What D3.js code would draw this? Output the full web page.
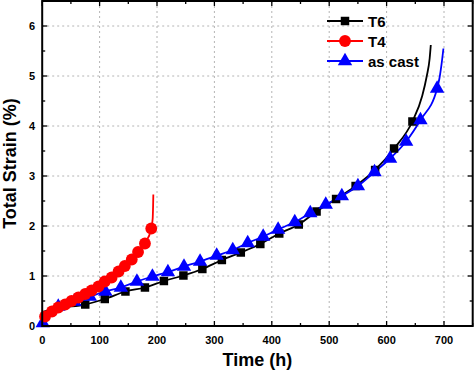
<!DOCTYPE html>
<html lang="en">
<head>
    <meta charset="utf-8">
    <title>Total strain vs time</title>
    <style>
        body { margin: 0; background: #fff; }
        svg { display: block; font-family: "Liberation Sans", Arial, Helvetica, sans-serif; font-weight: bold; }
    </style>
    <script type="text/javascript" src="https://d3js.org/d3.v7.min.js"></script>
</head>
<body>
    <div class="chart"></div>

    <script type="text/javascript">
        // DATA ------------------------------
        // T6 (black squares)
        const t6Time   = [75, 109, 145, 179, 212, 246, 279, 313, 346, 380, 413, 447, 478, 512, 546, 580, 613, 645];
        const t6Strain = [0.43, 0.54, 0.69, 0.77, 0.9, 1.01, 1.14, 1.32, 1.47, 1.64, 1.85, 2.03, 2.29, 2.54, 2.8, 3.12, 3.55, 4.09];
        // curve start and rupture tail
        const t6HeadTime = [0, 10, 30];
        const t6HeadStrain = [0.28, 0.31, 0.36];
        const t6TailTime = [662, 670, 675, 677];
        const t6TailStrain = [4.6, 5.0, 5.35, 5.62];

        // T4 (red circles)
        const t4Time   = [5, 17, 28, 40, 51, 63, 75, 86, 98, 109, 121, 133, 144, 156, 167, 179, 190];
        const t4Strain = [0.19, 0.29, 0.37, 0.43, 0.5, 0.57, 0.64, 0.71, 0.79, 0.89, 0.97, 1.09, 1.2, 1.33, 1.48, 1.65, 1.95];
        const t4HeadTime = [0];
        const t4HeadStrain = [0.1];
        const t4TailTime = [192.5, 193.2, 193.6];
        const t4TailStrain = [2.15, 2.4, 2.63];

        // as cast (blue triangles)
        const asTime   = [1, 28, 56, 83, 110, 137, 165, 192, 219, 247, 275, 304, 332, 358, 385, 411, 440, 467, 494, 522, 550, 579, 606, 634, 659, 688];
        const asStrain = [0.06, 0.39, 0.49, 0.59, 0.69, 0.77, 0.89, 0.99, 1.08, 1.19, 1.29, 1.41, 1.52, 1.66, 1.79, 1.93, 2.08, 2.26, 2.43, 2.6, 2.8, 3.08, 3.35, 3.69, 4.12, 4.75];
        const asHeadTime = [0];
        const asHeadStrain = [0.0];
        const asMidTime = [8, 15];
        const asMidStrain = [0.26, 0.32];
        const asTailTime = [692, 696, 699];
        const asTailStrain = [4.95, 5.26, 5.55];

        const xTicks = [0, 100, 200, 300, 400, 500, 600, 700];
        const yTicks = [0, 1, 2, 3, 4, 5, 6];
        const seriesNames = ["T6", "T4", "as cast"];

        // CHART -----------------------------
        const W = 474, H = 371;
        const pLeft = 42.2, pRight = 472.7, pTop = 1, pBottom = 326;

        const svg = d3.select(".chart").append("svg")
            .attr("width", W)
            .attr("height", H);

        const x = d3.scaleLinear().domain([0, 750]).range([pLeft, pRight]);
        const y = d3.scaleLinear().domain([0, 6.5]).range([pBottom, pTop]);

        // grid
        svg.append("g").selectAll("line")
            .data(xTicks.slice(1))
            .join("line")
            .attr("x1", d => x(d)).attr("x2", d => x(d))
            .attr("y1", pTop).attr("y2", pBottom)
            .attr("stroke", "#b4b4b4").attr("stroke-width", 1)
            .attr("stroke-dasharray", "2,3");
        svg.append("g").selectAll("line")
            .data(yTicks.slice(1))
            .join("line")
            .attr("x1", pLeft).attr("x2", pRight)
            .attr("y1", d => y(d)).attr("y2", d => y(d))
            .attr("stroke", "#b4b4b4").attr("stroke-width", 1)
            .attr("stroke-dasharray", "2,3");

        // ticks (inward) on all sides
        const xMinor = d3.range(0, 751, 50);
        const yMinor = d3.range(0, 6.51, 0.5);
        const tickG = svg.append("g").attr("stroke", "#000").attr("stroke-width", 1.3);
        xMinor.forEach(v => {
            const len = v % 100 === 0 ? 5 : 3;
            tickG.append("line").attr("x1", x(v)).attr("x2", x(v)).attr("y1", pBottom).attr("y2", pBottom - len);
            tickG.append("line").attr("x1", x(v)).attr("x2", x(v)).attr("y1", pTop).attr("y2", pTop + len);
        });
        yMinor.forEach(v => {
            const len = Number.isInteger(v) ? 5 : 3;
            tickG.append("line").attr("y1", y(v)).attr("y2", y(v)).attr("x1", pLeft).attr("x2", pLeft + len);
            tickG.append("line").attr("y1", y(v)).attr("y2", y(v)).attr("x1", pRight).attr("x2", pRight - len);
        });

        // tick labels
        svg.append("g").selectAll("text")
            .data(xTicks)
            .join("text")
            .attr("x", d => x(d))
            .attr("y", 344)
            .attr("text-anchor", "middle")
            .attr("font-size", 11)
            .text(d => d);
        svg.append("g").selectAll("text")
            .data(yTicks)
            .join("text")
            .attr("x", 35)
            .attr("y", d => y(d) + 4)
            .attr("text-anchor", "end")
            .attr("font-size", 11)
            .text(d => d);

        // axis titles
        svg.append("text")
            .attr("x", (pLeft + pRight) / 2)
            .attr("y", 366)
            .attr("text-anchor", "middle")
            .attr("font-size", 18)
            .text("Time (h)");
        svg.append("text")
            .attr("transform", `translate(16, ${(pTop + pBottom) / 2}) rotate(-90)`)
            .attr("text-anchor", "middle")
            .attr("font-size", 18)
            .text("Total Strain (%)");

        // lines
        const zip = (ts, vs) => ts.map((t, i) => [t, vs[i]]);
        const line = d3.line()
            .x(d => x(d[0]))
            .y(d => y(d[1]))
            .curve(d3.curveMonotoneX);

        const t6Line = [...zip(t6HeadTime, t6HeadStrain), ...zip(t6Time, t6Strain), ...zip(t6TailTime, t6TailStrain)];
        const t4Line = [...zip(t4HeadTime, t4HeadStrain), ...zip(t4Time, t4Strain), ...zip(t4TailTime, t4TailStrain)];
        const asLine = [...zip(asHeadTime, asHeadStrain), ...zip(asTime.slice(0, 1), asStrain.slice(0, 1)),
                        ...zip(asMidTime, asMidStrain), ...zip(asTime.slice(1), asStrain.slice(1)),
                        ...zip(asTailTime, asTailStrain)];

        const plot = svg.append("g");
        plot.append("path").datum(t6Line).attr("d", line)
            .attr("fill", "none").attr("stroke", "#000").attr("stroke-width", 1.8);
        plot.append("path").datum(asLine).attr("d", line)
            .attr("fill", "none").attr("stroke", "#0000ff").attr("stroke-width", 1.8);
        plot.append("path").datum(t4Line).attr("d", line)
            .attr("fill", "none").attr("stroke", "#ff0000").attr("stroke-width", 1.8);

        // markers
        const sq = d3.symbol().type(d3.symbolSquare).size(72);
        const ci = d3.symbol().type(d3.symbolCircle).size(110);
        const tr = d3.symbol().type(d3.symbolTriangle).size(90);

        plot.append("g").selectAll("path")
            .data(zip(t6Time, t6Strain))
            .join("path")
            .attr("d", sq)
            .attr("transform", d => `translate(${x(d[0])},${y(d[1])})`)
            .attr("fill", "#000");
        plot.append("g").selectAll("path")
            .data(zip(asTime, asStrain))
            .join("path")
            .attr("d", tr)
            .attr("transform", d => `translate(${x(d[0])},${y(d[1])})`)
            .attr("fill", "#0000ff");
        plot.append("g").selectAll("path")
            .data(zip(t4Time, t4Strain))
            .join("path")
            .attr("d", ci)
            .attr("transform", d => `translate(${x(d[0])},${y(d[1])})`)
            .attr("fill", "#ff0000");

        // frame
        svg.append("rect")
            .attr("x", pLeft).attr("y", pTop)
            .attr("width", pRight - pLeft).attr("height", pBottom - pTop)
            .attr("fill", "none").attr("stroke", "#000").attr("stroke-width", 2);

        // legend
        const legendColors = ["#000", "#ff0000", "#0000ff"];
        const legendSymbols = [sq, ci, tr];
        const legend = svg.append("g");
        seriesNames.forEach((name, i) => {
            const ly = 21 + i * 20;
            legend.append("line")
                .attr("x1", 327).attr("x2", 363).attr("y1", ly).attr("y2", ly)
                .attr("stroke", legendColors[i]).attr("stroke-width", 1.8);
            legend.append("path")
                .attr("d", legendSymbols[i])
                .attr("transform", `translate(345,${ly})`)
                .attr("fill", legendColors[i]);
            legend.append("text")
                .attr("x", 368).attr("y", ly + 5.5)
                .attr("font-size", 15)
                .text(name);
        });
    </script>
</body>
</html>
